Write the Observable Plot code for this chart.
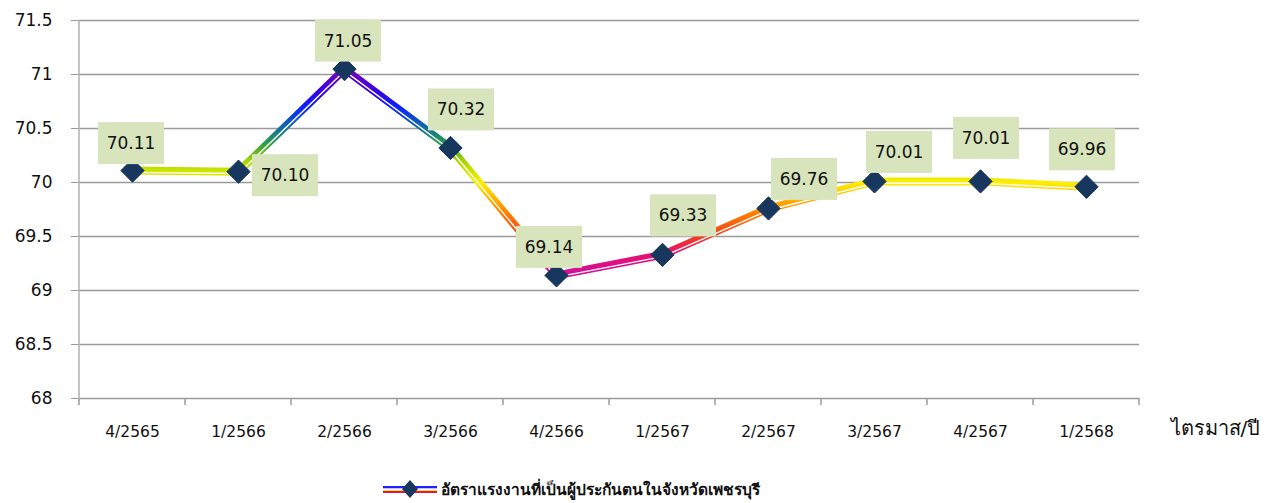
<!DOCTYPE html>
<html>
<head>
<meta charset="utf-8">
<script src="https://cdn.jsdelivr.net/npm/d3@7"></script>
<script src="https://cdn.jsdelivr.net/npm/@observablehq/plot@0.6"></script>
<style>
  body { margin: 0; background: #fff; font-family: "DejaVu Sans", Tahoma, sans-serif; }
  #chart { width: 1275px; height: 503px; position: relative; }
  #legend { position: absolute; left: 382px; top: 476px; height: 26px; display: flex; align-items: center; font-size: 15.5px; font-weight: 600; color: #111; }
  #legend svg { margin-right: 3px; }
</style>
</head>
<body>
<div id="chart"></div>
<script>
const quarters = ["4/2565","1/2566","2/2566","3/2566","4/2566","1/2567","2/2567","3/2567","4/2567","1/2568"];
const rates = [70.11, 70.10, 71.05, 70.32, 69.14, 69.33, 69.76, 70.01, 70.01, 69.96];
const rateLabels = ["70.11","70.10","71.05","70.32","69.14","69.33","69.76","70.01","70.01","69.96"];
const yTicks = [68, 68.5, 69, 69.5, 70, 70.5, 71, 71.5];
const seriesName = "อัตราแรงงานที่เป็นผู้ประกันตนในจังหวัดเพชรบุรี";
const axisTitle = "ไตรมาส/ปี";

// layout / style (not data)
const labelOffsets = [[-1,-27],[47,4],[4,-28],[11,-38],[-7,-28],[21,-39],[36,-29],[25,-29],[6,-43],[-4,-37]];
const gradientStops = [
  [71.05, "#7a00b8"], [70.85, "#3a00e0"], [70.7, "#0a20ff"], [70.5, "#1070a0"],
  [70.35, "#30a040"], [70.2, "#a8d400"], [70.1, "#d0e600"], [70.0, "#ffee00"],
  [69.85, "#ffb400"], [69.7, "#ff7a00"], [69.5, "#f04020"], [69.35, "#e8106a"], [69.14, "#d010a0"]
];

const data = quarters.map((q, i) => ({q, v: rates[i], label: rateLabels[i], off: labelOffsets[i]}));
const NS = "http://www.w3.org/2000/svg";
const gridColor = "#9a9a9a";
const center = (s, q) => s.x(q) + s.x.bandwidth() / 2;

function gradientDefs(index, scales) {
  const g = document.createElementNS(NS, "g");
  const defs = document.createElementNS(NS, "defs");
  const lg = document.createElementNS(NS, "linearGradient");
  lg.setAttribute("id", "lineGrad");
  lg.setAttribute("gradientUnits", "userSpaceOnUse");
  const yTop = scales.y(71.05), yBot = scales.y(69.14);
  lg.setAttribute("x1", 0); lg.setAttribute("x2", 0);
  lg.setAttribute("y1", yTop); lg.setAttribute("y2", yBot);
  for (const [v, c] of gradientStops) {
    const s = document.createElementNS(NS, "stop");
    s.setAttribute("offset", ((scales.y(v) - yTop) / (yBot - yTop)).toFixed(4));
    s.setAttribute("stop-color", c);
    lg.appendChild(s);
  }
  defs.appendChild(lg);
  g.appendChild(defs);
  return g;
}

function frameLines(index, scales) {
  const g = document.createElementNS(NS, "g");
  const bw = scales.x.bandwidth();
  const xs = quarters.map(q => scales.x(q)).concat([scales.x(quarters[quarters.length - 1]) + bw]);
  const y0 = scales.y(68);
  for (const x of xs) {
    const l = document.createElementNS(NS, "line");
    l.setAttribute("x1", x); l.setAttribute("x2", x);
    l.setAttribute("y1", y0); l.setAttribute("y2", y0 + 7);
    l.setAttribute("stroke", gridColor); l.setAttribute("stroke-width", 1.5);
    g.appendChild(l);
  }
  const x0 = scales.x(quarters[0]);
  const v = document.createElementNS(NS, "line");
  v.setAttribute("x1", x0); v.setAttribute("x2", x0);
  v.setAttribute("y1", scales.y(71.5)); v.setAttribute("y2", y0 + 7);
  v.setAttribute("stroke", "#b0b0b0"); v.setAttribute("stroke-width", 1.5);
  g.appendChild(v);
  return g;
}

function labelBoxes(index, scales) {
  const g = document.createElementNS(NS, "g");
  for (const d of data) {
    const cx = center(scales, d.q) + d.off[0];
    const cy = scales.y(d.v) + d.off[1];
    const r = document.createElementNS(NS, "rect");
    r.setAttribute("x", cx - 33); r.setAttribute("y", cy - 21);
    r.setAttribute("width", 66); r.setAttribute("height", 42);
    r.setAttribute("fill", "#d8e4bc");
    g.appendChild(r);
    const t = document.createElementNS(NS, "text");
    t.setAttribute("x", cx); t.setAttribute("y", cy);
    t.setAttribute("text-anchor", "middle");
    t.setAttribute("dominant-baseline", "central");
    t.setAttribute("font-size", 17);
    t.setAttribute("fill", "#111");
    t.textContent = d.label;
    g.appendChild(t);
  }
  return g;
}

const plot = Plot.plot({
  width: 1275,
  height: 470,
  marginLeft: 79,
  marginRight: 136,
  marginTop: 20,
  marginBottom: 72,
  style: {fontFamily: "'DejaVu Sans', Tahoma, sans-serif", background: "white", overflow: "visible"},
  x: {type: "band", domain: quarters, padding: 0, axis: null, label: null},
  y: {domain: [68, 71.5], axis: null, label: null},
  marks: [
    gradientDefs,
    Plot.ruleY(yTicks, {stroke: gridColor, strokeWidth: 1.5}),
    Plot.axisY({ticks: yTicks, tickFormat: d => String(d), tickSize: 8, tickPadding: 19, stroke: gridColor, fontSize: 17, color: "#111", label: null}),
    frameLines,
    Plot.axisX({tickSize: 0, tickPadding: 27, fontSize: 15.5, color: "#111", label: null}),
    Plot.text([axisTitle], {frameAnchor: "bottom-right", textAnchor: "start", lineAnchor: "middle", dx: 31, dy: 30, fontSize: 20, fill: "#111"}),
    Plot.line(data, {x: "q", y: "v", stroke: "url(#lineGrad)", strokeWidth: 8, strokeLinejoin: "round"}),
    Plot.line(data, {x: "q", y: "v", stroke: "white", strokeWidth: 1.4, dy: 1.8, strokeLinejoin: "round"}),
    Plot.dot(data, {x: "q", y: "v", symbol: "diamond2", r: 10.5, fill: "#17375e", stroke: "#17375e", strokeWidth: 1}),
    labelBoxes
  ]
});

document.getElementById("chart").appendChild(plot);

const legend = document.createElement("div");
legend.id = "legend";
legend.innerHTML = `<svg width="56" height="20" viewBox="0 0 56 20">
  <defs><linearGradient id="legGrad" x1="0" x2="0" y1="0" y2="1">
    <stop offset="0" stop-color="#2020ff"/><stop offset="0.35" stop-color="#2020ff"/>
    <stop offset="0.36" stop-color="#ffffff"/><stop offset="0.5" stop-color="#ffffff"/>
    <stop offset="0.51" stop-color="#ffe800"/><stop offset="0.7" stop-color="#ffe800"/>
    <stop offset="0.71" stop-color="#e81060"/><stop offset="1" stop-color="#e81060"/>
  </linearGradient></defs>
  <rect x="1" y="7" width="54" height="7" fill="url(#legGrad)"/>
  <path d="M28 1 L36 10 L28 19 L20 10 Z" fill="#17375e"/>
</svg><span>${seriesName}</span>`;
document.getElementById("chart").appendChild(legend);
</script>
</body>
</html>
